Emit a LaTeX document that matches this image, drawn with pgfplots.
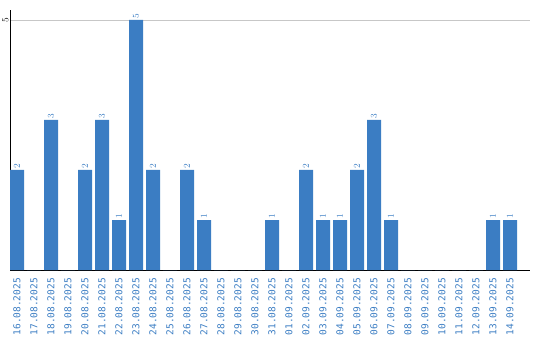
\documentclass[border=0pt]{standalone}
\usepackage{pgfplots}
\pgfplotsset{compat=1.18}
\usepackage{fontspec}
\setmainfont{Liberation Sans}
\newfontfamily\monofont{DejaVu Sans Mono}
\definecolor{barblue}{RGB}{59,125,195}
\begin{document}
\begin{tikzpicture}[x=1pt,y=1pt]
\useasboundingbox (0,0) rectangle (540,340);
\begin{axis}[
  at={(10pt,70pt)}, anchor=south west,
  scale only axis, width=520pt, height=260pt,
  xmin=-0.4118, xmax=30.176,
  ymin=0, ymax=5.2,
  axis x line*=bottom, axis y line*=left,
  axis line style={black, line width=0.8pt, -},
  xtick={0,...,29},
  xticklabels={16.08.2025,17.08.2025,18.08.2025,19.08.2025,20.08.2025,21.08.2025,22.08.2025,23.08.2025,24.08.2025,25.08.2025,26.08.2025,27.08.2025,28.08.2025,29.08.2025,30.08.2025,31.08.2025,01.09.2025,02.09.2025,03.09.2025,04.09.2025,05.09.2025,06.09.2025,07.09.2025,08.09.2025,09.09.2025,10.09.2025,11.09.2025,12.09.2025,13.09.2025,14.09.2025},
  x tick label style={rotate=90, anchor=east, font=\monofont\fontsize{9.5}{10}\selectfont, text=barblue, inner sep=0pt},
  xtick style={draw=none},
  major tick length=0pt,
  xticklabel shift=8pt,
  ytick={5},
  y tick label style={rotate=90, anchor=south, font=\monofont\fontsize{9.5}{10}\selectfont, inner sep=0pt},
  yticklabel shift=1.5pt,
  ytick style={draw=none},
  ymajorgrids, grid style={black!22, line width=0.8pt},
  ybar, bar width=14pt, bar shift=0pt,
  enlargelimits=false,
  nodes near coords={\pgfmathfloatifflags{\pgfplotspointmeta}{0}{}{\pgfmathprintnumber{\pgfplotspointmeta}}},
  every node near coord/.append style={rotate=90, anchor=west, font=\monofont\fontsize{9.5}{10}\selectfont, text=barblue, inner sep=1pt},
  clip=false,
]
\addplot[fill=barblue, draw=none] coordinates {
(0,2)(1,0)(2,3)(3,0)(4,2)(5,3)(6,1)(7,5)(8,2)(9,0)
(10,2)(11,1)(12,0)(13,0)(14,0)(15,1)(16,0)(17,2)(18,1)(19,1)
(20,2)(21,3)(22,1)(23,0)(24,0)(25,0)(26,0)(27,0)(28,1)(29,1)};
\end{axis}
\end{tikzpicture}
\end{document}
